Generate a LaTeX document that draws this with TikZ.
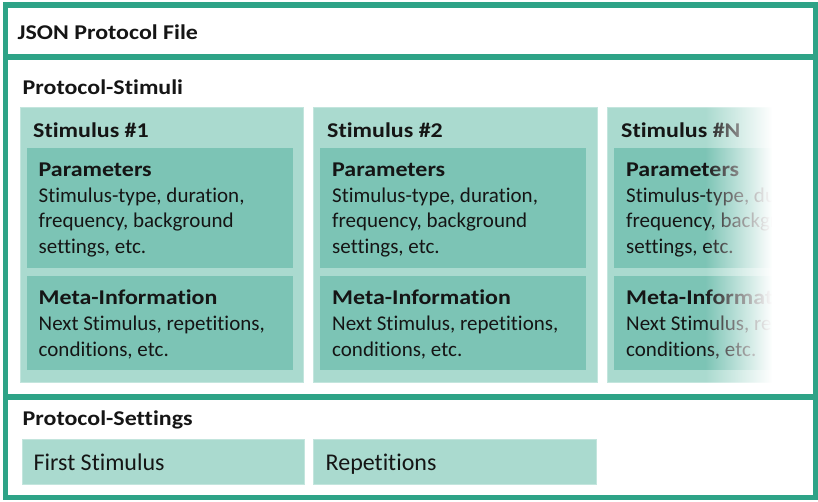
\documentclass[tikz,border=0pt]{standalone}
\usepackage{fontspec}
\setmainfont{Carlito}[Ligatures=NoCommon, BoldFeatures={FakeStretch=1.14}]
\usetikzlibrary{fadings}
\definecolor{frameteal}{HTML}{2EA387}
\definecolor{lightteal}{HTML}{AADACF}
\definecolor{midteal}{HTML}{7CC4B5}
\definecolor{inktext}{HTML}{151515}
\tikzfading[name=fadetoright, left color=transparent!100, right color=transparent!0]
\begin{document}
\begin{tikzpicture}[x=1pt,y=-1pt,
  box/.style={anchor=north west, inner sep=0pt, outer sep=0pt},
  section/.style={box, draw=frameteal, line width=5.5pt, minimum width=810pt},
  stimbox/.style={box, fill=lightteal, draw=lightteal!70!white, line width=0.8pt, minimum height=275pt},
  parbox/.style={box, fill=midteal, minimum height=120pt},
  metabox/.style={box, fill=midteal, minimum height=94pt},
  setbox/.style={box, fill=lightteal, draw=lightteal!70!white, line width=0.8pt, minimum height=45pt},
  txt/.style={anchor=base west, inner sep=0pt, text=inktext, font=\fontsize{21}{26}\selectfont},
  settxt/.style={txt, font=\fontsize{24}{28}\selectfont},
  head/.style={txt, font=\fontsize{21}{26}\selectfont\bfseries},
]
\useasboundingbox (0,0) rectangle (818,501);

% sections
\node[section, minimum height=52pt] (json) at (5.5,5) {};
\node[section, minimum height=340pt] (stimuli) at (5.5,57) {};
\node[section, minimum height=100.5pt] (settings) at (5.5,397) {};

\node[head] (jsontitle) at (17.5,39.5) {JSON Protocol File};
\node[head] (stimtitle) at (22.5,94) {Protocol-Stimuli};
\node[head] (settitle) at (22.5,425.5) {Protocol-Settings};

% stimulus 1
\node[stimbox, minimum width=283.5pt] (s1) at (20,107.5) {};
\node[parbox, minimum width=266pt] (p1) at (27,148) {};
\node[metabox, minimum width=266pt] (m1) at (27,276) {};
\node[head] (s1t) at (33,137.5) {Stimulus \#1};
\node[head] (p1t) at (38.5,176) {Parameters};
\node[txt] (p1a) at (38.5,202) {Stimulus-type, duration,};
\node[txt] (p1b) at (38.5,227.5) {frequency, background};
\node[txt] (p1c) at (38.5,253) {settings, etc.};
\node[head] (m1t) at (38.5,304) {Meta-Information};
\node[txt] (m1a) at (38.5,330) {Next Stimulus, repetitions,};
\node[txt] (m1b) at (38.5,356) {conditions, etc.};

% stimulus 2
\node[stimbox, minimum width=283.5pt] (s2) at (313.5,107.5) {};
\node[parbox, minimum width=266pt] (p2) at (320,148) {};
\node[metabox, minimum width=266pt] (m2) at (320,276) {};
\node[head] (s2t) at (327,137.5) {Stimulus \#2};
\node[head] (p2t) at (332,176) {Parameters};
\node[txt] (p2a) at (332,202) {Stimulus-type, duration,};
\node[txt] (p2b) at (332,227.5) {frequency, background};
\node[txt] (p2c) at (332,253) {settings, etc.};
\node[head] (m2t) at (332,304) {Meta-Information};
\node[txt] (m2a) at (332,330) {Next Stimulus, repetitions,};
\node[txt] (m2b) at (332,356) {conditions, etc.};

% stimulus N (cut off at the right)
\begin{scope}
\clip (600,100) rectangle (800,391);
\node[stimbox, minimum width=200pt] (sn) at (607,107.5) {};
\node[parbox, minimum width=190pt] (pn) at (614,148) {};
\node[metabox, minimum width=190pt] (mn) at (614,276) {};
\node[head] (snt) at (621,137.5) {Stimulus \#N};
\node[head] (pnt) at (626,176) {Parameters};
\node[txt] (pna) at (626,202) {Stimulus-type, duration,};
\node[txt] (pnb) at (626,227.5) {frequency, background};
\node[txt] (pnc) at (626,253) {settings, etc.};
\node[head] (mnt) at (626,304) {Meta-Information};
\node[txt] (mna) at (626,330) {Next Stimulus, repetitions,};
\node[txt] (mnb) at (626,356) {conditions, etc.};
\end{scope}

% fade to white on the right
\fill[white, path fading=fadetoright] (705,100) rectangle (772,391);
\fill[white] (771.5,100) rectangle (810,391);

% settings boxes
\node[setbox, minimum width=281.5pt] (first) at (22.5,439) {};
\node[setbox, minimum width=283pt] (rep) at (313,439) {};
\node[settxt] (firstt) at (33.5,470) {First Stimulus};
\node[settxt] (rept) at (325.5,470) {Repetitions};
\end{tikzpicture}
\end{document}
